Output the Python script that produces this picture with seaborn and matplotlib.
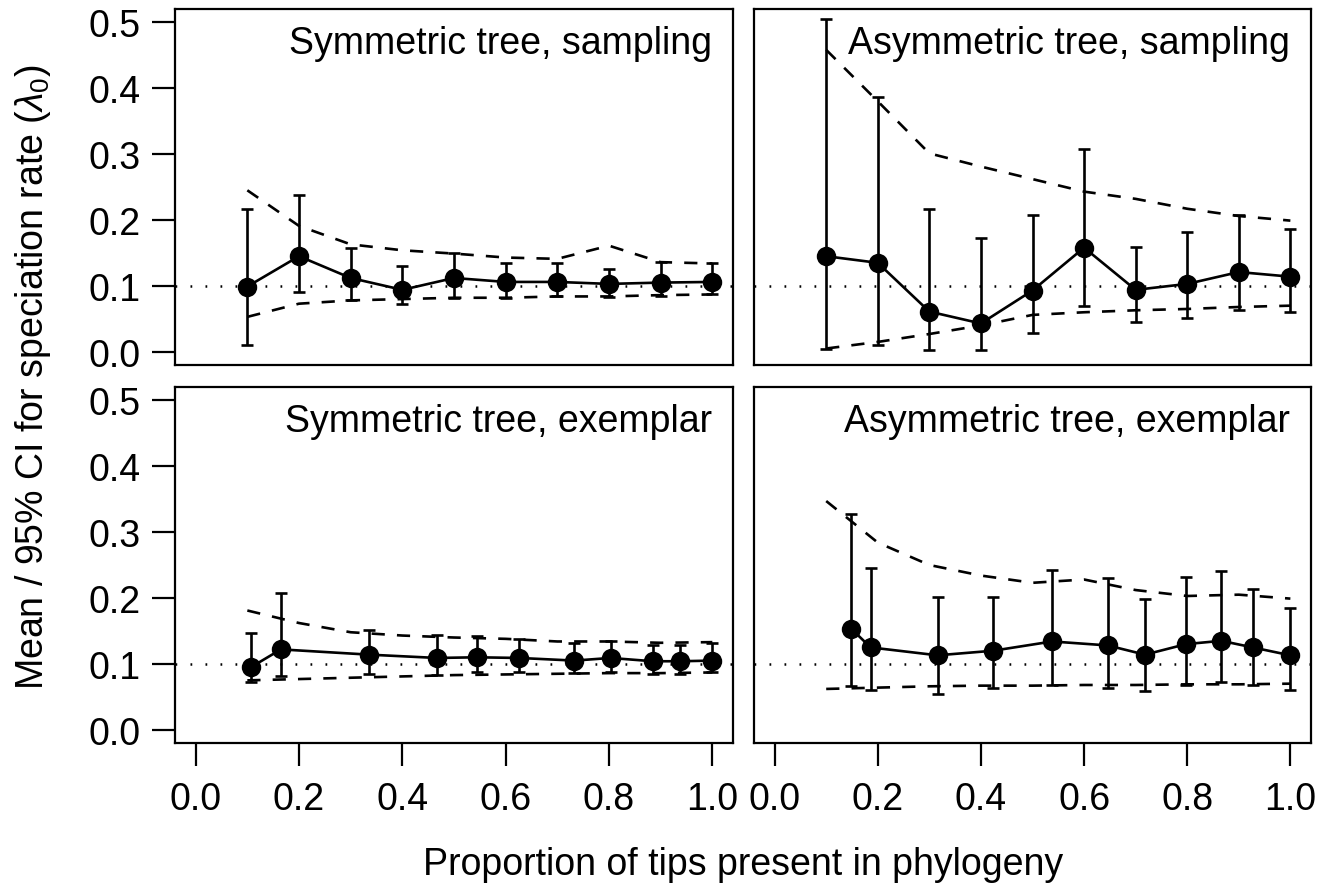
import numpy as np
import pandas as pd
import matplotlib
matplotlib.use("Agg")
import matplotlib.pyplot as plt
import matplotlib.transforms as mtransforms
import seaborn as sns

# ---------------- data ----------------
grid_x = [0.1, 0.2, 0.3, 0.4, 0.5, 0.6, 0.7, 0.8, 0.9, 1.0]

sym_samp_x = [0.1, 0.2, 0.3, 0.4, 0.5, 0.6, 0.7, 0.8, 0.9, 1.0]
sym_samp_mean = [0.099, 0.145, 0.112, 0.094, 0.112, 0.106, 0.106, 0.103, 0.105, 0.106]
sym_samp_lo = [0.010, 0.090, 0.079, 0.072, 0.082, 0.082, 0.084, 0.083, 0.085, 0.087]
sym_samp_hi = [0.216, 0.238, 0.158, 0.130, 0.150, 0.135, 0.135, 0.126, 0.136, 0.134]
sym_samp_exp_hi = [0.245, 0.191, 0.163, 0.154, 0.149, 0.143, 0.141, 0.161, 0.136, 0.134]
sym_samp_exp_lo = [0.053, 0.073, 0.078, 0.080, 0.082, 0.082, 0.084, 0.084, 0.086, 0.087]

asym_samp_x = [0.1, 0.2, 0.3, 0.4, 0.5, 0.6, 0.7, 0.8, 0.9, 1.0]
asym_samp_mean = [0.145, 0.135, 0.061, 0.043, 0.093, 0.158, 0.094, 0.103, 0.121, 0.114]
asym_samp_lo = [0.005, 0.011, 0.002, 0.002, 0.029, 0.069, 0.045, 0.051, 0.063, 0.061]
asym_samp_hi = [0.505, 0.386, 0.217, 0.172, 0.207, 0.308, 0.159, 0.182, 0.207, 0.186]
asym_samp_exp_hi = [0.458, 0.380, 0.301, 0.281, 0.262, 0.243, 0.232, 0.217, 0.206, 0.199]
asym_samp_exp_lo = [0.005, 0.015, 0.027, 0.040, 0.056, 0.060, 0.063, 0.065, 0.068, 0.070]

sym_ex_x = [0.107, 0.165, 0.336, 0.467, 0.544, 0.626, 0.733, 0.803, 0.885, 0.938, 1.0]
sym_ex_mean = [0.095, 0.122, 0.114, 0.109, 0.110, 0.109, 0.105, 0.109, 0.104, 0.104, 0.105]
sym_ex_lo = [0.072, 0.082, 0.085, 0.083, 0.087, 0.087, 0.086, 0.087, 0.085, 0.085, 0.087]
sym_ex_hi = [0.147, 0.208, 0.152, 0.144, 0.143, 0.138, 0.132, 0.135, 0.128, 0.129, 0.132]
sym_ex_exp_hi = [0.181, 0.162, 0.148, 0.143, 0.140, 0.138, 0.134, 0.134, 0.132, 0.133]
sym_ex_exp_lo = [0.075, 0.077, 0.079, 0.081, 0.083, 0.084, 0.085, 0.086, 0.086, 0.087]

asym_ex_x = [0.149, 0.186, 0.316, 0.424, 0.538, 0.646, 0.718, 0.798, 0.866, 0.927, 1.0]
asym_ex_mean = [0.153, 0.125, 0.113, 0.120, 0.134, 0.128, 0.114, 0.130, 0.135, 0.125, 0.113]
asym_ex_lo = [0.066, 0.060, 0.054, 0.064, 0.068, 0.064, 0.059, 0.068, 0.072, 0.068, 0.061]
asym_ex_hi = [0.327, 0.245, 0.201, 0.201, 0.242, 0.230, 0.199, 0.232, 0.241, 0.213, 0.185]
asym_ex_exp_hi = [0.347, 0.284, 0.250, 0.234, 0.223, 0.228, 0.212, 0.203, 0.205, 0.199]
asym_ex_exp_lo = [0.062, 0.064, 0.066, 0.067, 0.067, 0.068, 0.068, 0.069, 0.069, 0.070]

titles = ["Symmetric tree, sampling", "Asymmetric tree, sampling",
          "Symmetric tree, exemplar", "Asymmetric tree, exemplar"]
true_rate = 0.1
x_ticks = [0.0, 0.2, 0.4, 0.6, 0.8, 1.0]
y_ticks = [0.0, 0.1, 0.2, 0.3, 0.4, 0.5]
x_label = "Proportion of tips present in phylogeny"
y_label = r"Mean / 95% CI for speciation rate ($\lambda_0$)"

# ---------------- style ----------------
sns.set_theme(style="white")
plt.rcParams["font.family"] = ["Liberation Sans", "DejaVu Sans"]
plt.rcParams["mathtext.fontset"] = "custom"
plt.rcParams["mathtext.rm"] = "Liberation Sans"
plt.rcParams["mathtext.it"] = "Liberation Sans:italic"
plt.rcParams["axes.linewidth"] = 1.6
plt.rcParams["axes.edgecolor"] = "black"
plt.rcParams["text.color"] = "black"
plt.rcParams["xtick.color"] = "black"
plt.rcParams["ytick.color"] = "black"

FS = 27
LW = 1.9
W, H = 1330, 887
fig = plt.figure(figsize=(W / 100, H / 100), dpi=100)

def px_axes(l, t, r, b):
    return fig.add_axes([l / W, 1 - b / H, (r - l) / W, (b - t) / H])

ax_tl = px_axes(175, 10, 733, 366)
ax_tr = px_axes(754, 10, 1311, 366)
ax_bl = px_axes(175, 388, 733, 744)
ax_br = px_axes(754, 388, 1311, 744)

panels = [
    (ax_tl, sym_samp_x, sym_samp_mean, sym_samp_lo, sym_samp_hi, sym_samp_exp_lo, sym_samp_exp_hi),
    (ax_tr, asym_samp_x, asym_samp_mean, asym_samp_lo, asym_samp_hi, asym_samp_exp_lo, asym_samp_exp_hi),
    (ax_bl, sym_ex_x, sym_ex_mean, sym_ex_lo, sym_ex_hi, sym_ex_exp_lo, sym_ex_exp_hi),
    (ax_br, asym_ex_x, asym_ex_mean, asym_ex_lo, asym_ex_hi, asym_ex_exp_lo, asym_ex_exp_hi),
]

for i, (ax, x, m, lo, hi, elo, ehi) in enumerate(panels):
    x = np.array(x); m = np.array(m); lo = np.array(lo); hi = np.array(hi)
    ax.axhline(true_rate, color="black", lw=1.8, linestyle=(0, (0.7, 5.3)), zorder=1)
    sns.lineplot(x=grid_x, y=ehi, ax=ax, color="black", lw=LW,
                 linestyle=(0, (5.0, 4.6)), zorder=2)
    sns.lineplot(x=grid_x, y=elo, ax=ax, color="black", lw=LW,
                 linestyle=(0, (5.0, 4.6)), zorder=2)
    ax.errorbar(x, m, yerr=[m - lo, hi - m], fmt="none", ecolor="black",
                elinewidth=LW, capsize=4.5, capthick=LW, zorder=3)
    sns.lineplot(x=x, y=m, ax=ax, color="black", lw=LW, marker="o",
                 markersize=14, markeredgewidth=0, markerfacecolor="black", zorder=4)

    ax.set_xlim(-0.04, 1.04)
    ax.set_ylim(-0.02, 0.52)
    ax.set_xticks(x_ticks)
    ax.set_yticks(y_ticks)
    ax.set_xticklabels([f"{v:.1f}" for v in x_ticks])
    ax.set_yticklabels([f"{v:.1f}" for v in y_ticks])
    ax.set_xlabel("")
    ax.set_ylabel("")
    for s in ax.spines.values():
        s.set_visible(True)
        s.set_linewidth(1.6)
        s.set_color("black")
    bottom_row = i >= 2
    left_col = i % 2 == 0
    ax.tick_params(axis="x", bottom=bottom_row, labelbottom=bottom_row,
                   direction="out", length=16.5, width=1.6, labelsize=FS, pad=11,
                   colors="black")
    ax.tick_params(axis="y", left=left_col, labelleft=left_col,
                   direction="out", length=16.5, width=1.6, labelsize=FS, pad=8,
                   colors="black")
    trans = mtransforms.blended_transform_factory(ax.transData, ax.transAxes)
    ax.text(1.0, 0.905, titles[i], transform=trans, ha="right", va="center",
            fontsize=FS, color="black")

fig.text(743 / W, 1 - 865 / H, x_label, ha="center", va="center", fontsize=FS,
         color="black")
fig.text(33 / W, 1 - 377 / H, y_label, ha="center", va="center", rotation=90,
         fontsize=FS, color="black")

fig.savefig("out.png", dpi=100)
